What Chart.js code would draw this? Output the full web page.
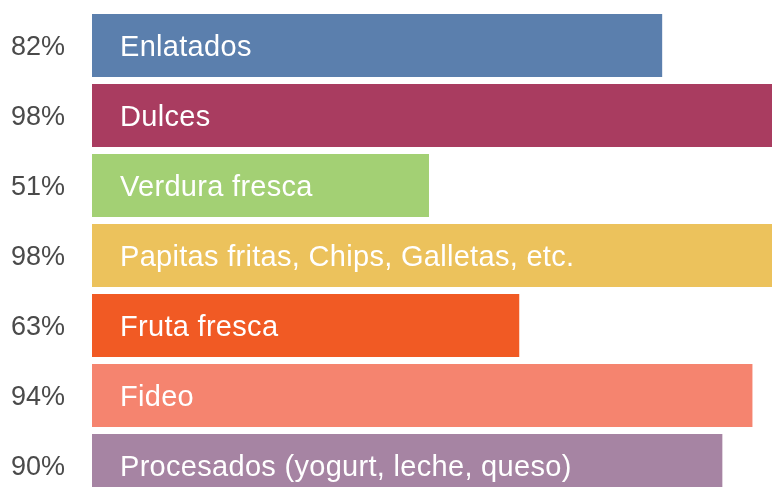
<!DOCTYPE html>
<html>
<head>
<meta charset="utf-8">
<script src="https://cdn.jsdelivr.net/npm/chart.js@4.4.0/dist/chart.umd.min.js"></script>
<style>
  html, body { margin: 0; padding: 0; background: #fff; overflow: hidden; }
  canvas { display: block; }
</style>
</head>
<body>
<canvas id="myBarChart" width="772" height="501"></canvas>
<script>
var categories = ['Enlatados', 'Dulces', 'Verdura fresca', 'Papitas fritas, Chips, Galletas, etc.',
                  'Fruta fresca', 'Fideo', 'Procesados (yogurt, leche, queso)'];
var values = [82, 98, 51, 98, 63, 94, 90];
var pctLabels = ['82%', '98%', '51%', '98%', '63%', '94%', '90%'];
var barColors = ['#5b7fad', '#a93c60', '#a3d074', '#ecc25c', '#f15a24', '#f5846f', '#a684a3'];

var fontFamily = "'Liberation Sans', Arial, sans-serif";

// writes the category name inside each bar
var insideLabels = {
    id: 'insideLabels',
    afterDatasetsDraw: function (chart) {
        var ctx = chart.ctx;
        var meta = chart.getDatasetMeta(0);
        ctx.save();
        ctx.fillStyle = '#ffffff';
        ctx.font = '29px ' + fontFamily;
        ctx.letterSpacing = '0.3px';
        ctx.textAlign = 'left';
        ctx.textBaseline = 'alphabetic';
        for (var i = 0; i < meta.data.length; i++) {
            ctx.fillText(categories[i], chart.chartArea.left + 28, meta.data[i].y + 10);
        }
        ctx.restore();
    }
};

new Chart(document.getElementById('myBarChart'), {
    type: 'bar',
    data: {
        labels: pctLabels,
        datasets: [{
            data: values,
            backgroundColor: barColors,
            borderWidth: 0,
            categoryPercentage: 1,
            barPercentage: 0.9,
            clip: 0
        }]
    },
    options: {
        indexAxis: 'y',
        responsive: false,
        animation: false,
        layout: { padding: { left: 0, right: 0, top: 10.5, bottom: 0.5 } },
        plugins: {
            legend: { display: false },
            tooltip: { enabled: false }
        },
        scales: {
            x: {
                display: false,
                min: 6.2,
                max: 96.6
            },
            y: {
                grid: { display: false, drawTicks: false },
                border: { display: false },
                ticks: {
                    color: '#4a4a4a',
                    padding: 27,
                    labelOffset: 2,
                    font: { size: 27, family: fontFamily }
                },
                afterFit: function (axis) {
                    axis.width = 92;
                    axis.paddingTop = 0;
                    axis.paddingBottom = 0;
                }
            }
        }
    },
    plugins: [insideLabels]
});
</script>
</body>
</html>
